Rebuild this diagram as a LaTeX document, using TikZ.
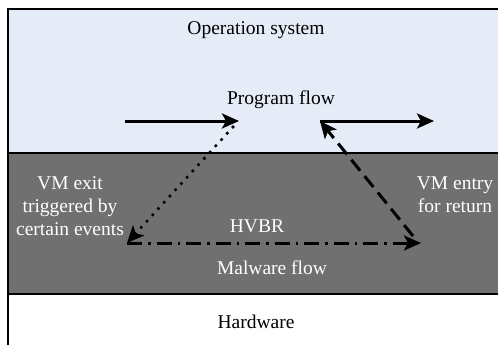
\documentclass[tikz,border=0pt]{standalone}
\usepackage{fontspec}
\setmainfont{Liberation Serif}
\usepackage{color}
\definecolor{mylightblue}{RGB}{229,236,247}
\definecolor{mydarkgray}{RGB}{112,112,112}
\usepackage{tikz}
\usetikzlibrary{arrows.meta,positioning,calc}

\begin{document}
\begin{tikzpicture}[
  x=1pt,y=-1pt,
  font=\fontsize{19.5}{23}\selectfont,
  mylayer/.style={
    draw=black,
    line width=1.3pt
    },
  mylabel/.style={
    align=center,
    inner sep=0pt
    },
  mywhite/.style={
    mylabel,
    text=white
    },
  myflow/.style={
    line width=3pt,
    -{Stealth[length=17pt,width=15pt,inset=4pt]}
    }
]

\useasboundingbox (0,0) rectangle (498,345);
\clip (0,0) rectangle (498,345);

% layers
\fill[mylightblue] (8,9) rectangle (510,153);
\fill[mydarkgray] (8,153) rectangle (510,294);
\draw[mylayer] (510,9) -- (8,9) -- (8,350);
\draw[mylayer] (8,153) -- (510,153);
\draw[mylayer] (8,294) -- (510,294);

% texts
\node[mylabel] (os) at (256,30) {Operation system};
\node[mylabel] (prog) at (281,100) {Program flow};
\node[mywhite] (exit) at (70,206) {VM exit\\triggered by\\certain events};
\node[mywhite] (entry) at (455,195) {VM entry\\for return};
\node[mywhite] (hvbr) at (257,226) {HVBR};
\node[mywhite] (malware) at (272,268) {Malware flow};
\node[mylabel] (hw) at (256,322) {Hardware};

% flow points
\coordinate (progA) at (125,121);
\coordinate (progB) at (239,121);
\coordinate (progC) at (320,121);
\coordinate (progD) at (434,121);
\coordinate (dotstart) at (233,127);
\coordinate (exitpt) at (127,243);
\coordinate (entrypt) at (421,243);
\coordinate (dashstart) at (413,236);

\draw[myflow] (progA) -- (progB);
\draw[myflow] (progC) -- (progD);
\draw[myflow,dash pattern=on 0pt off 8.5pt,line cap=round,line width=3.6pt] (dotstart) -- (exitpt);
\draw[myflow,dash pattern=on 15pt off 6pt on 2.5pt off 6pt] (exitpt) -- (entrypt);
\draw[myflow,dash pattern=on 14pt off 7pt] (dashstart) -- (progC);

\end{tikzpicture}
\end{document}
